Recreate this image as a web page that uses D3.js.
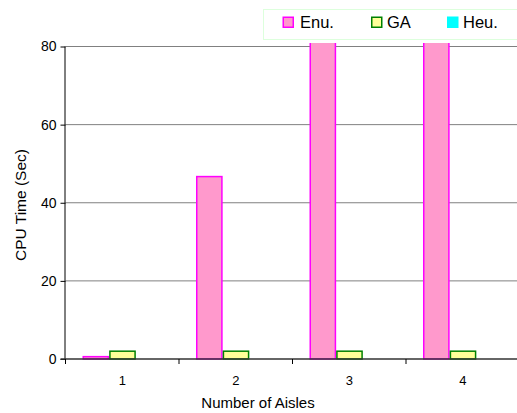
<!DOCTYPE html>
<html><head><meta charset="utf-8">
<script src="https://cdn.jsdelivr.net/npm/d3@7"></script>
<style>body{margin:0;background:#fff;} svg{display:block;font-family:Arial,"Liberation Sans",sans-serif;}</style>
</head><body>
<script>
const categories = ["1", "2", "3", "4"];
const seriesNames = ["Enu.", "GA", "Heu."];
const enuValues = [0.6, 46.7, 300, 1200];
const gaValues = [2.0, 2.0, 2.0, 2.0];
const heuValues = [0, 0, 0, 0];
const yTicks = [0, 20, 40, 60, 80];
const fills = ["#ff99cc", "#ffff99", "#00ffff"];
const strokes = ["#ff00ff", "#008000", "#00ffff"];

const W = 517, H = 413;
const svg = d3.select("body").append("svg").attr("width", W).attr("height", H);
const m = {left: 65.5, top: 46.5, bottom: 359};
const x = d3.scaleBand().domain(categories).range([m.left, m.left + 4 * 113.5]).paddingInner(0).paddingOuter(0);
const y = d3.scaleLinear().domain([0, 80]).range([m.bottom, m.top]);
const inner = d3.scaleBand().domain(seriesNames).range([17, 17 + 80]);

const data = [enuValues, gaValues, heuValues];

// gridlines
svg.append("g").selectAll("line").data(yTicks.filter(d => d > 0)).join("line")
  .attr("x1", m.left).attr("x2", W).attr("y1", d => y(d)).attr("y2", d => y(d))
  .attr("stroke", "#808080").attr("stroke-width", 1);

svg.append("defs").append("clipPath").attr("id", "clip").append("rect")
  .attr("x", 0).attr("y", 43).attr("width", W).attr("height", H);

const bars = svg.append("g").attr("clip-path", "url(#clip)");
seriesNames.forEach((s, i) => {
  bars.append("g").selectAll("rect").data(categories).join("rect")
    .attr("x", (c) => x(c) + inner(s) + 0.75)
    .attr("width", inner.bandwidth() - 1.5)
    .attr("y", (c, j) => y(data[i][j]))
    .attr("height", (c, j) => Math.max(0, y(0) - y(data[i][j])))
    .attr("fill", fills[i]).attr("stroke", strokes[i])
    .attr("stroke-width", (c, j) => data[i][j] > 0 ? 1.5 : 0);
});

// y axis
const yAxis = svg.append("g").attr("transform", `translate(${m.left},0)`)
  .call(d3.axisLeft(y).tickValues(yTicks).tickSize(5).tickPadding(4));
yAxis.select(".domain").attr("stroke", "#000").attr("d", `M-0.5,${m.bottom}V${m.top}`);
yAxis.selectAll(".tick line").attr("stroke", "#000");
yAxis.selectAll("text").attr("font-size", 14).attr("fill", "#000").attr("font-family", "Arial, 'Liberation Sans', sans-serif");

// x axis
const xAxis = svg.append("g").attr("transform", `translate(0,${m.bottom})`)
  .call(d3.axisBottom(x).tickSize(0).tickPadding(17));
xAxis.select(".domain").remove();
xAxis.append("line").attr("x1", m.left - 5).attr("x2", W).attr("y1", 0).attr("y2", 0).attr("stroke", "#333").attr("stroke-width", 1.5);
xAxis.append("g").selectAll("line").data(d3.range(5)).join("line")
  .attr("x1", d => m.left + d * 113.5).attr("x2", d => m.left + d * 113.5)
  .attr("y1", 0).attr("y2", 5).attr("stroke", "#000");
xAxis.selectAll(".tick text").attr("font-size", 13).attr("fill", "#000").attr("font-family", "Arial, 'Liberation Sans', sans-serif");

// axis titles
svg.append("text").attr("x", 258).attr("y", 408).attr("text-anchor", "middle")
  .attr("font-size", 15).text("Number of Aisles");
svg.append("text").attr("transform", "translate(26,205) rotate(-90)").attr("text-anchor", "middle")
  .attr("font-size", 15.5).text("CPU Time (Sec)");

// legend
const lg = svg.append("g");
lg.append("rect").attr("x", 263.5).attr("y", 9.5).attr("width", 270).attr("height", 30)
  .attr("fill", "#fff").attr("stroke", "#ddffdd").attr("stroke-width", 1);
const lx = [282.5, 371, 447];
const tx = [300, 387, 463];
seriesNames.forEach((s, i) => {
  lg.append("rect").attr("x", lx[i] + 0.75).attr("y", 17.25).attr("width", 10).attr("height", 10)
    .attr("fill", fills[i]).attr("stroke", strokes[i]).attr("stroke-width", 1.5);
  lg.append("text").attr("x", tx[i]).attr("y", 27.5).attr("font-size", 16.5).text(s);
});
</script>
</body></html>
